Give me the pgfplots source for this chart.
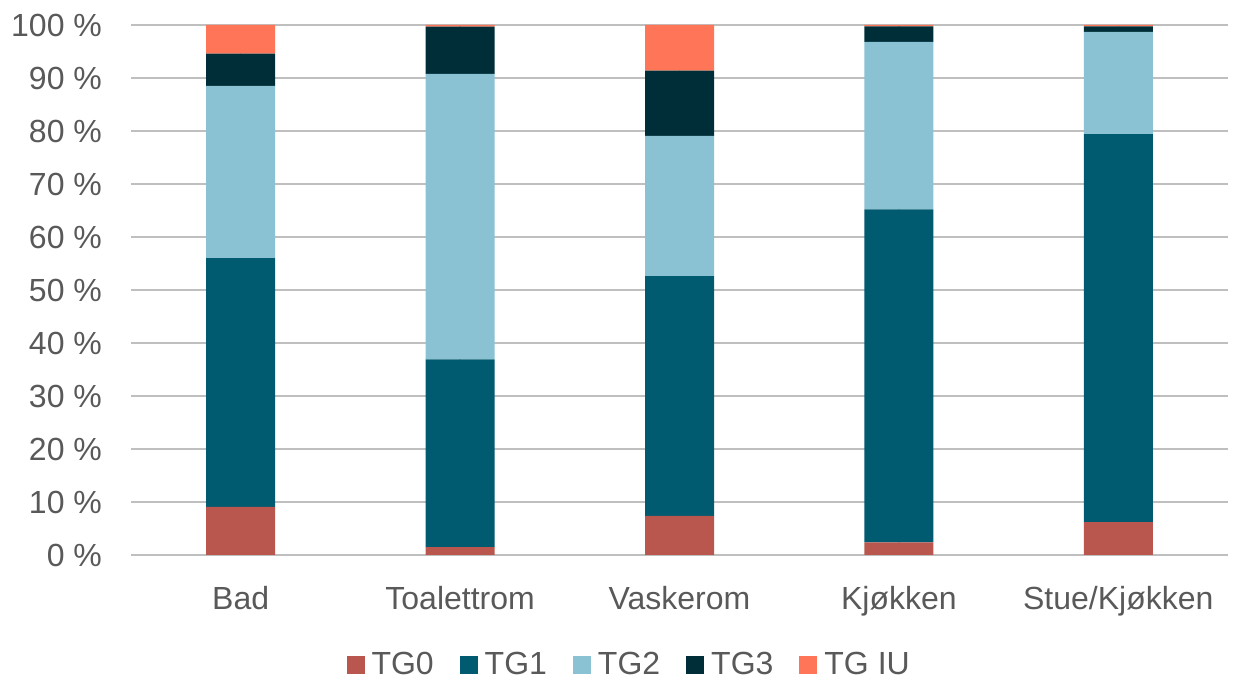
\documentclass[border=0pt]{standalone}
\usepackage{pgfplots}
\pgfplotsset{compat=1.18}
\usepackage{fontspec}
\setmainfont{Liberation Sans}
\definecolor{tgzero}{HTML}{B9574F}
\definecolor{tgone}{HTML}{005A70}
\definecolor{tgtwo}{HTML}{8AC1D3}
\definecolor{tgthree}{HTML}{002E38}
\definecolor{tgiu}{HTML}{FF7557}
\definecolor{txt}{HTML}{595959}
\definecolor{grid}{HTML}{D9D9D9}
\begin{document}
\begin{tikzpicture}
\useasboundingbox (-65.5pt,-61.5pt) rectangle (555pt,277.5pt);
\begin{axis}[
  at={(0,0)}, anchor=south west,
  scale only axis, width=548.5pt, height=265pt,
  ybar stacked, bar width=34.5pt,
  xmin=-0.5, xmax=4.5, ymin=0, ymax=100,
  xtick={0,1,2,3,4},
  xticklabels={Bad,Toalettrom,Vaskerom,Kjøkken,Stue/Kjøkken},
  ytick={0,10,...,100},
  yticklabel={\pgfmathprintnumber{\tick}~\%},
  /pgf/number format/assume math mode=true,
  font=\fontsize{16}{19}\selectfont,
  tick label style={text=txt},
  yticklabel style={xshift=-11pt},
  xticklabel style={yshift=-12pt},
  major tick length=0pt,
  axis line style={draw=none},
  ymajorgrids, grid style={grid, line width=0.8pt},
  legend columns=5,
  legend style={draw=none, at={(0.455,-0.207)}, anchor=center, font=\fontsize{16}{19}\selectfont, text=txt,
    /tikz/every odd column/.append style={column sep=1.5pt},
    /tikz/every even column/.append style={column sep=11pt}},
  legend image code/.code={\fill[#1] (0pt,-4.5pt) rectangle (9pt,4.5pt);},
  every axis plot/.append style={draw=none},
]
\addplot[fill=tgzero] coordinates {(0,9.1) (1,1.5) (2,7.4) (3,2.4) (4,6.2)};
\addplot[fill=tgone] coordinates {(0,46.9) (1,35.4) (2,45.2) (3,62.8) (4,73.2)};
\addplot[fill=tgtwo] coordinates {(0,32.5) (1,53.9) (2,26.5) (3,31.6) (4,19.3)};
\addplot[fill=tgthree] coordinates {(0,6.1) (1,8.9) (2,12.3) (3,2.95) (4,1.05)};
\addplot[fill=tgiu] coordinates {(0,5.4) (1,0.3) (2,8.6) (3,0.25) (4,0.25)};
\legend{TG0,TG1,TG2,TG3,TG IU}
\end{axis}
\end{tikzpicture}
\end{document}
